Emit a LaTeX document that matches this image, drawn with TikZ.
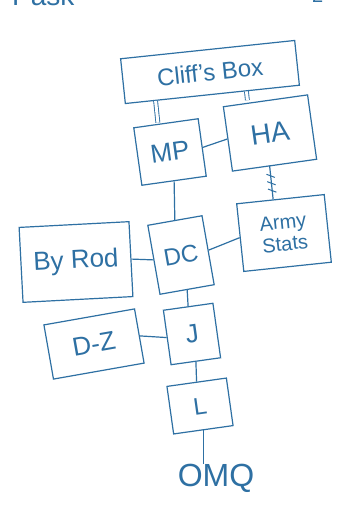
\documentclass[tikz,border=0pt]{standalone}
\usepackage{fontspec}
\setmainfont{Liberation Sans}
\usetikzlibrary{calc,decorations.markings}

\definecolor{pen}{RGB}{46,112,163}

\tikzset{
  x=1pt, y=1pt,
  box/.style={draw=pen, line width=1.2pt, text=pen, rectangle, inner sep=2pt, align=center},
  wire/.style={draw=pen, line width=1.2pt},
  dbl/.style={draw=pen, line width=0.9pt, double=white, double distance=3pt},
  hatched/.style={wire, postaction={decorate, decoration={markings,
      mark=between positions 0.3 and 0.75 step 0.22 with {\draw[pen, line width=1pt] (-2pt,-4pt) -- (2pt,4pt);}}}},
  scrawl/.style={text=pen, inner sep=0pt}
}

\begin{document}
\begin{tikzpicture}
  \clip (0,0) rectangle (341,-505);
  \fill[white] (0,0) rectangle (341,-505);

  % scraps of writing running off the top edge
  \node[scrawl, anchor=base west, font=\fontsize{28}{30}\selectfont] (pask) at (12,-6) {Pask};
  \node[scrawl, anchor=base west, font=\fontsize{20}{22}\selectfont] (two) at (312,-3) {2};

  % boxes
  \node[box, rotate=6, minimum width=175pt, minimum height=45pt, font=\fontsize{24}{26}\selectfont] (cliff) at (210,-72) {Cliff's Box};
  \node[box, rotate=8, minimum width=65pt, minimum height=58pt, font=\fontsize{26}{28}\selectfont] (mp) at (170,-152) {MP};
  \node[box, rotate=8, minimum width=85pt, minimum height=65pt, font=\fontsize{28}{30}\selectfont] (ha) at (270,-133) {HA};
  \node[box, rotate=6, minimum width=88pt, minimum height=68pt, font=\fontsize{20}{22}\selectfont] (army) at (284,-233) {Army\\Stats};
  \node[box, rotate=3, minimum width=110pt, minimum height=75pt, font=\fontsize{26}{28}\selectfont] (byrod) at (76,-262) {By Rod};
  \node[box, rotate=10, minimum width=55pt, minimum height=70pt, font=\fontsize{24}{26}\selectfont] (dc) at (181,-255) {DC};
  \node[box, rotate=10, minimum width=92pt, minimum height=55pt, font=\fontsize{26}{28}\selectfont] (dz) at (94,-344) {D-Z};
  \node[box, rotate=8, minimum width=50pt, minimum height=55pt, font=\fontsize{26}{28}\selectfont] (j) at (192,-334) {J};
  \node[box, rotate=8, minimum width=60pt, minimum height=48pt, font=\fontsize{24}{26}\selectfont] (l) at (200,-406) {L};
  \node[scrawl, font=\fontsize{32}{34}\selectfont] (omq) at (216,-478) {OMQ};

  % double links hanging from Cliff's Box
  \coordinate (mpTop) at ([xshift=-8pt]mp.north);
  \draw[dbl] (mpTop) -- ($(cliff.south west)!(mpTop)!(cliff.south east)$);
  \coordinate (haTop) at ([xshift=-18pt]ha.north);
  \draw[dbl] (haTop) -- ($(cliff.south west)!(haTop)!(cliff.south east)$);

  % remaining links
  \draw[wire] (mp.east) -- (ha.west);
  \coordinate (haBot) at ([xshift=-5pt]ha.south);
  \draw[hatched] (haBot) -- ($(army.north west)!(haBot)!(army.north east)$);
  \draw[wire] (mp.south) -- (dc.north);
  \draw[wire] (byrod.east) -- (dc.west);
  \draw[wire] (dc.east) -- (army.west);
  \draw[wire] (dc.south) -- (j.north);
  \draw[wire] (dz.east) -- (j.west);
  \draw[wire] (j.south) -- (l.north);
  \draw[wire] (l.south) -- (l.south |- omq.north);
\end{tikzpicture}
\end{document}
